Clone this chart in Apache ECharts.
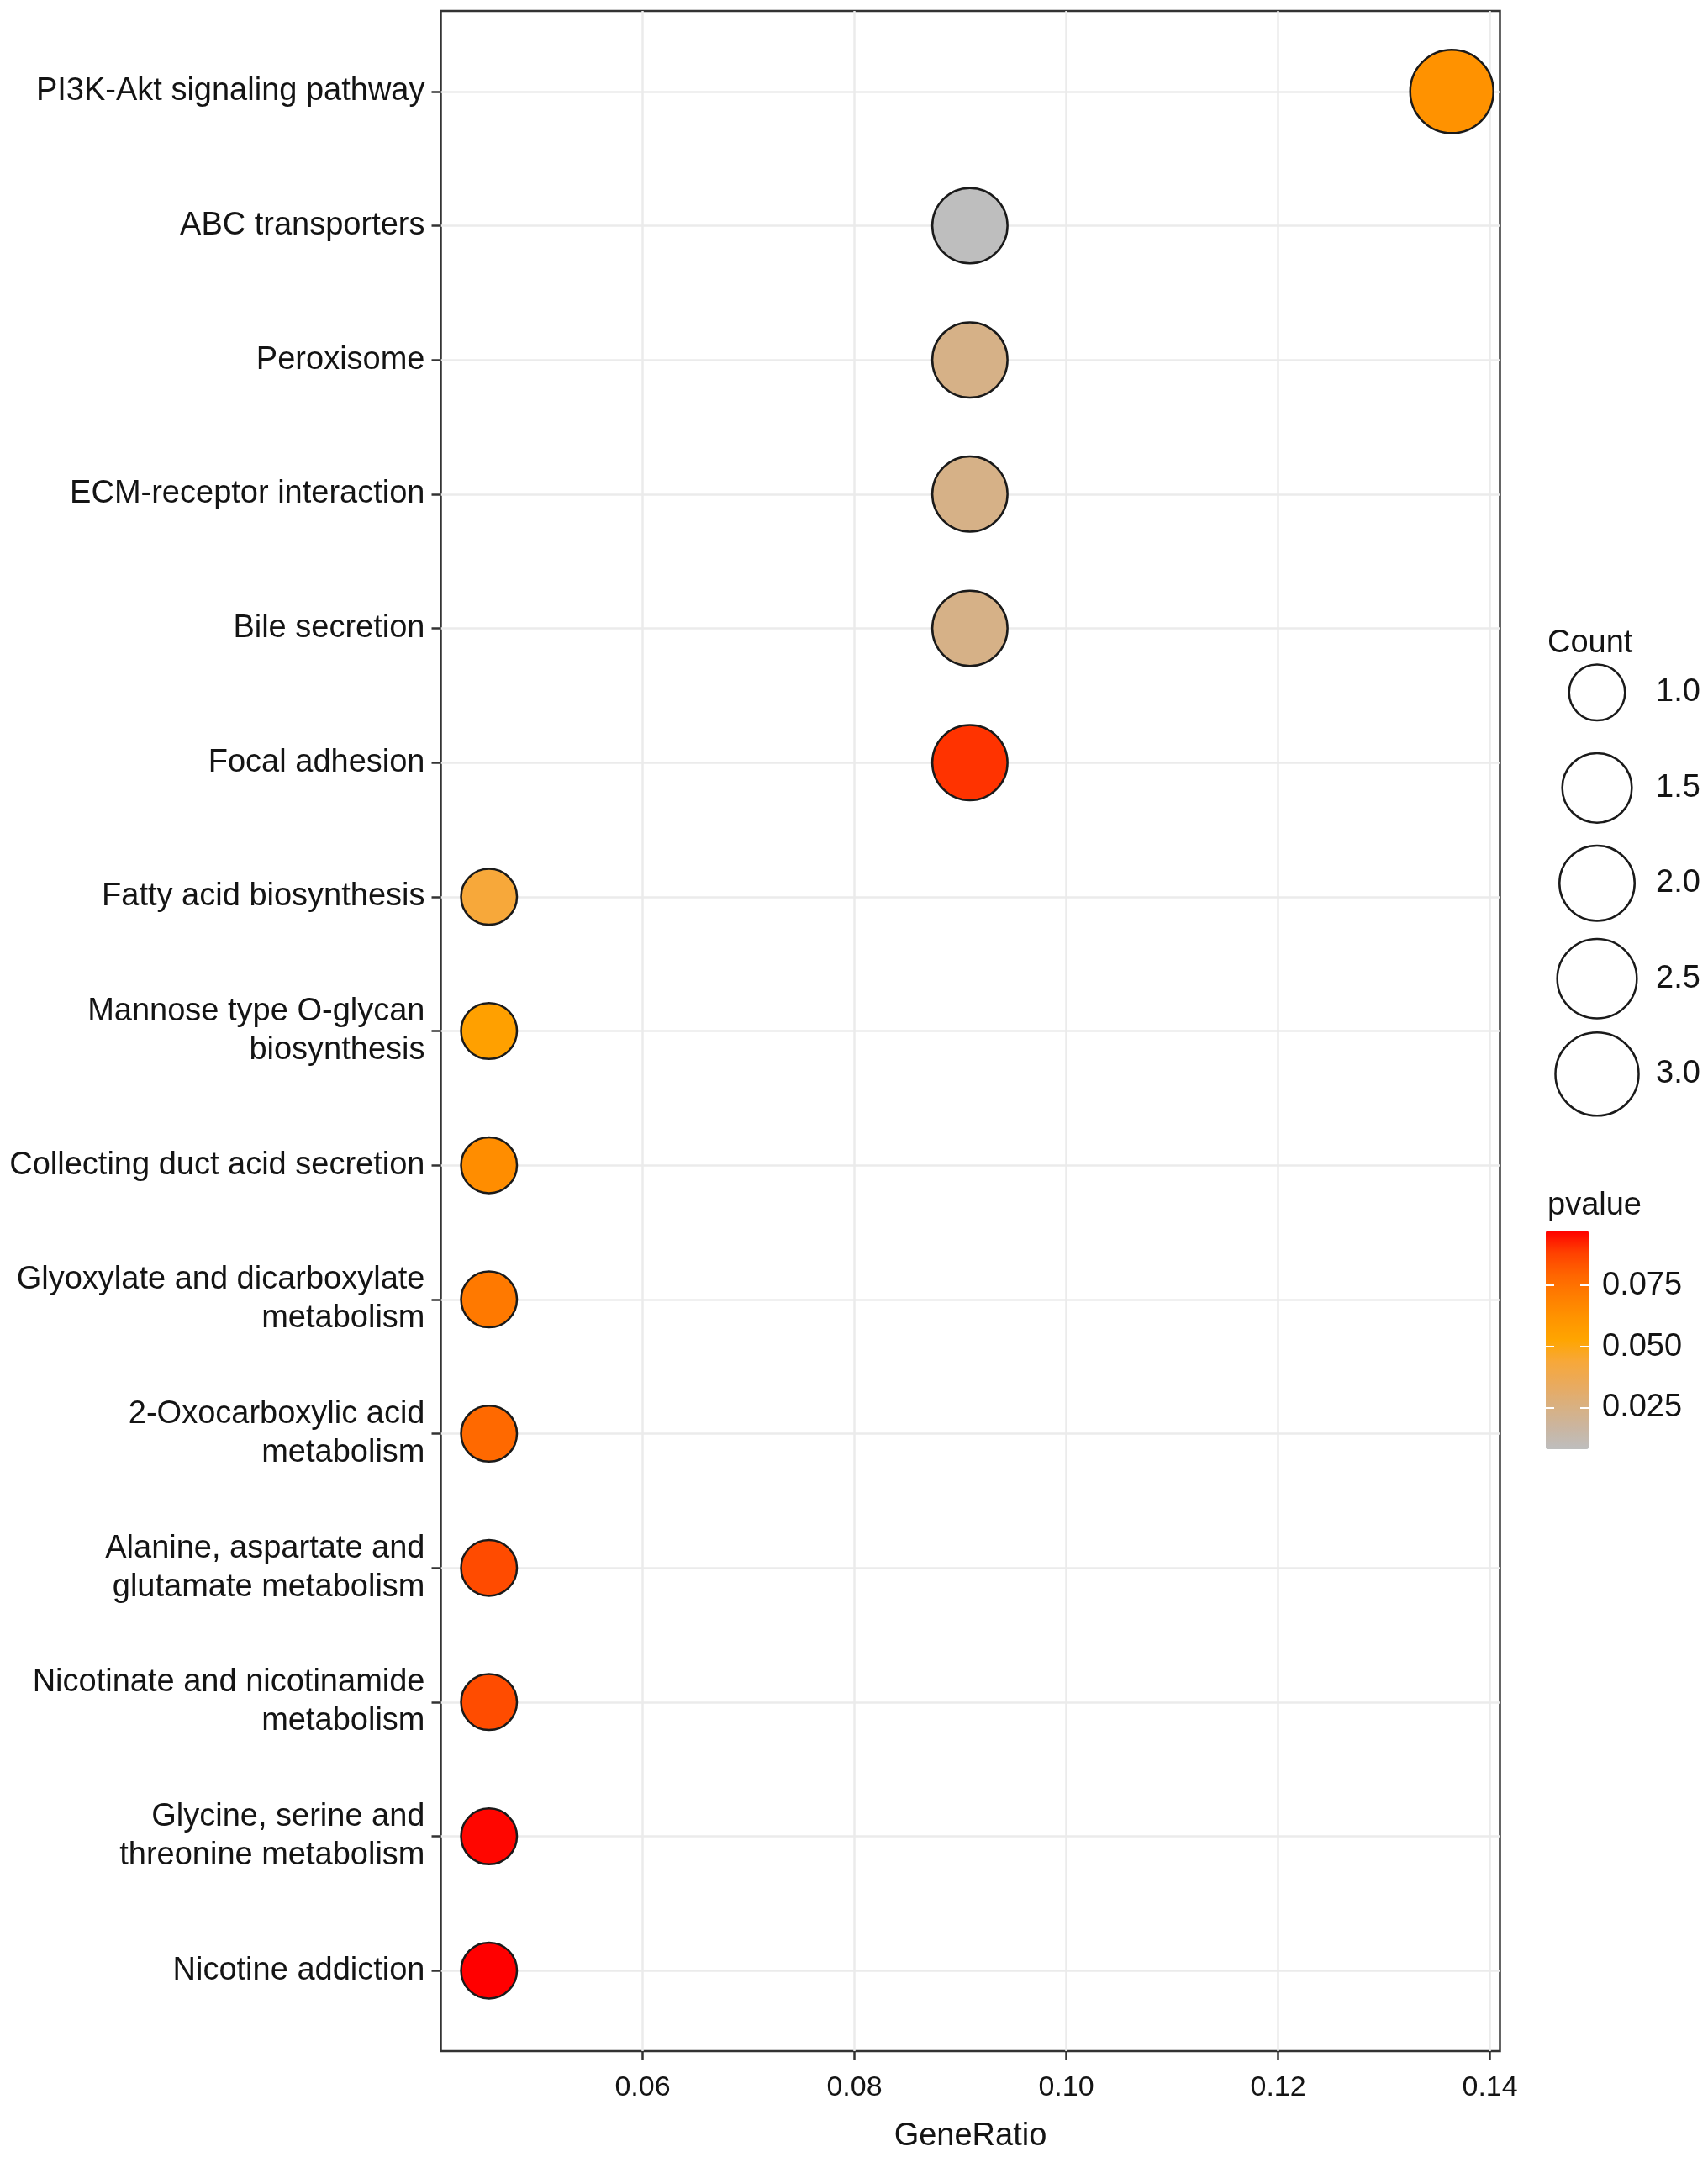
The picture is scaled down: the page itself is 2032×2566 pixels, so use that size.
<!DOCTYPE html>
<html><head><meta charset="utf-8">
<script src="https://cdn.jsdelivr.net/npm/echarts@6/dist/echarts.min.js"></script>
<style>html,body{margin:0;padding:0;background:#fff}#c{width:2032px;height:2566px}</style>
</head><body><div id="c"></div>
<script>
// ---- data ----
const categories = [
  'PI3K-Akt signaling pathway',
  'ABC transporters',
  'Peroxisome',
  'ECM-receptor interaction',
  'Bile secretion',
  'Focal adhesion',
  'Fatty acid biosynthesis',
  'Mannose type O-glycan\nbiosynthesis',
  'Collecting duct acid secretion',
  'Glyoxylate and dicarboxylate\nmetabolism',
  '2-Oxocarboxylic acid\nmetabolism',
  'Alanine, aspartate and\nglutamate metabolism',
  'Nicotinate and nicotinamide\nmetabolism',
  'Glycine, serine and\nthreonine metabolism',
  'Nicotine addiction'
];
const geneRatio = [0.1364, 0.0909, 0.0909, 0.0909, 0.0909, 0.0909, 0.0455, 0.0455, 0.0455, 0.0455, 0.0455, 0.0455, 0.0455, 0.0455, 0.0455];
const counts    = [3, 2, 2, 2, 2, 2, 1, 1, 1, 1, 1, 1, 1, 1, 1];
const pvalues   = [0.0626, 0.0082, 0.0242, 0.0242, 0.0242, 0.0902, 0.0438, 0.0554, 0.0643, 0.0724, 0.0777, 0.0857, 0.0855, 0.0964, 0.0973];
const xTicks = [0.06, 0.08, 0.10, 0.12, 0.14];
const countLegend = [1.0, 1.5, 2.0, 2.5, 3.0];
const pvalueTicks = [0.025, 0.050, 0.075];
const pvalueColors = ['#BEBEBE','#CAB5A0','#D9B080','#EAAA5C','#F7A83A','#FFA500','#FF9400','#FF7E00','#FF6400','#FF4000','#FF0000'];

// ---- derived scales ----
const xLo = Math.min(...geneRatio), xHi = Math.max(...geneRatio);
const xPad = (xHi - xLo) * 0.05;
const xMin = xLo - xPad, xMax = xHi + xPad;
const pMin = Math.min(...pvalues), pMax = Math.max(...pvalues);
const cMin = Math.min(...countLegend), cMax = Math.max(...countLegend);
const SMIN = 66.5, SMAX = 99;
function sizeFor(c) { return SMIN + (SMAX - SMIN) * Math.sqrt((c - cMin) / (cMax - cMin)); }

const TXT = '#141414';
const FONT = 'Liberation Sans';
const catIdx = categories.map((_, i) => i);

const chart = echarts.init(document.getElementById('c'), null, {renderer: 'canvas'});
chart.setOption({
  backgroundColor: '#fff',
  animation: false,
  textStyle: {fontFamily: FONT, color: TXT},
  title: [
    {text: 'Count', left: 1841, top: 747, padding: 0, textStyle: {fontFamily: FONT, fontSize: 38, fontWeight: 'normal', color: TXT}},
    {text: 'pvalue', left: 1841, top: 1416, padding: 0, textStyle: {fontFamily: FONT, fontSize: 38, fontWeight: 'normal', color: TXT}}
  ],
  grid: [
    {left: 524.5, top: 13, width: 1260, height: 2432, show: true, borderColor: '#333', borderWidth: 2.5, backgroundColor: 'transparent', containLabel: false},
    {left: 1840, top: 767, width: 120, height: 567.5, containLabel: false},
    {left: 1839, top: 1464, width: 51, height: 260, containLabel: false}
  ],
  xAxis: [
    {
      type: 'value', gridIndex: 0, min: xMin, max: xMax, splitNumber: 10,
      axisLine: {show: false, onZero: false},
      axisTick: {show: true, customValues: xTicks, length: 11, lineStyle: {color: '#333', width: 2.5}},
      axisLabel: {customValues: xTicks, formatter: v => v.toFixed(2), fontSize: 34, color: TXT, margin: 27, fontFamily: FONT},
      splitLine: {show: true, lineStyle: {color: '#EBEBEB', width: 2.5}},
      name: 'GeneRatio', nameLocation: 'middle', nameGap: 83,
      nameTextStyle: {fontSize: 38, color: TXT, fontFamily: FONT}
    },
    {type: 'value', gridIndex: 1, min: -1, max: 1, show: false},
    {type: 'value', gridIndex: 2, min: 0, max: 1, show: false}
  ],
  yAxis: [
    {
      type: 'value', gridIndex: 0, inverse: true, min: -0.6, max: categories.length - 1 + 0.6,
      splitNumber: categories.length,
      axisLine: {show: false, onZero: false},
      axisTick: {show: true, customValues: catIdx, length: 11, lineStyle: {color: '#333', width: 2.5}},
      axisLabel: {customValues: catIdx, formatter: v => categories[Math.round(v)], fontSize: 38, lineHeight: 46, color: TXT, margin: 19, fontFamily: FONT, align: 'right', padding: [6, 0, 0, 0]},
      splitLine: {show: true, lineStyle: {color: '#EBEBEB', width: 2.5}}
    },
    {
      type: 'category', gridIndex: 1, inverse: true, position: 'right',
      data: countLegend.map(v => v.toFixed(1)),
      axisLine: {show: false}, axisTick: {show: false}, splitLine: {show: false},
      axisLabel: {fontSize: 38, color: TXT, margin: 10, fontFamily: FONT}
    },
    {
      type: 'value', gridIndex: 2, min: pMin, max: pMax, position: 'left', z: 10,
      axisLine: {show: false, onZero: false}, splitLine: {show: false}, axisLabel: {show: false},
      axisTick: {show: true, inside: true, customValues: pvalueTicks, length: 10, lineStyle: {color: '#fff', width: 2}}
    },
    {
      type: 'value', gridIndex: 2, min: pMin, max: pMax, position: 'right', z: 10,
      axisLine: {show: false, onZero: false}, splitLine: {show: false},
      axisTick: {show: true, inside: true, customValues: pvalueTicks, length: 10, lineStyle: {color: '#fff', width: 2}},
      axisLabel: {show: true, customValues: pvalueTicks, formatter: v => v.toFixed(3), fontSize: 38, color: TXT, margin: 16, fontFamily: FONT}
    }
  ],
  visualMap: {
    type: 'continuous', seriesIndex: 0, dimension: 3,
    min: pMin, max: pMax, inRange: {color: pvalueColors},
    orient: 'vertical', left: 1839, top: 1464, itemWidth: 51, itemHeight: 260,
    calculable: false, hoverLink: false, padding: 0, text: null, z: 4
  },
  series: [
    {
      type: 'scatter', xAxisIndex: 0, yAxisIndex: 0, z: 5,
      data: categories.map((c, i) => [geneRatio[i], i, counts[i], pvalues[i]]),
      symbol: 'circle',
      symbolSize: v => sizeFor(v[2]),
      itemStyle: {borderColor: '#1a1a1a', borderWidth: 2.5, opacity: 1},
      emphasis: {disabled: true}
    },
    {
      type: 'scatter', xAxisIndex: 1, yAxisIndex: 1,
      data: countLegend.map(v => [0, v.toFixed(1), v]),
      symbol: 'circle',
      symbolSize: v => sizeFor(v[2]),
      itemStyle: {color: '#fff', borderColor: '#1a1a1a', borderWidth: 2.5, opacity: 1},
      silent: true
    },
    {type: 'scatter', xAxisIndex: 2, yAxisIndex: 3, data: [], silent: true}
  ]
});
</script></body></html>
